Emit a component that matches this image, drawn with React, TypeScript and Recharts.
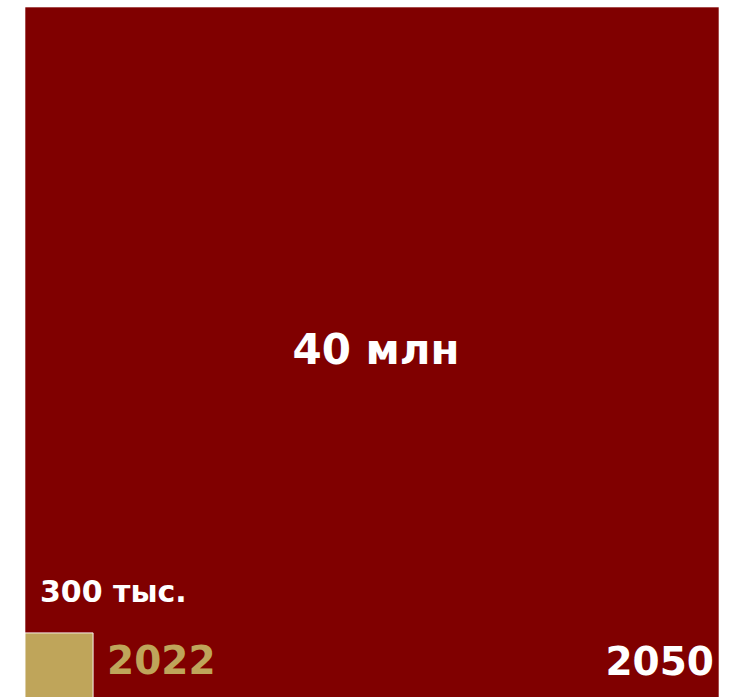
import React from 'react';
import { ComposedChart, XAxis, YAxis, ReferenceArea, Label } from 'recharts';

// Values (millions of people) as drawn: area of each square
const years: string[] = ['2022', '2050'];
const valueLabels: string[] = ['300 тыс.', '40 млн'];
const areas: number[] = [0.385, 40];

const GOLD = '#BFA55A';
const RED = '#800000';
const FONT = '"DejaVu Sans", Verdana, sans-serif';

const sides = areas.map((a) => Math.sqrt(a));
const maxSide = Math.max(...sides);
const chartData = [{ x: 0, y: 0 }, { x: maxSide, y: maxSide }];

const renderBig = (props: any) => {
  const vb = props.viewBox || {};
  const { x = 0, y = 0, width = 0, height = 0 } = vb;
  return (
    <g>
      <text
        x={x + width / 2 + 4}
        y={y + height / 2 + 10}
        textAnchor="middle"
        fill="#ffffff"
        fontFamily={FONT}
        fontWeight="bold"
        fontSize={42}
      >
        {valueLabels[1]}
      </text>
      <text
        x={x + width - 5}
        y={y + height - 26}
        textAnchor="end"
        fill="#ffffff"
        fontFamily={FONT}
        fontWeight="bold"
        fontSize={39}
      >
        {years[1]}
      </text>
    </g>
  );
};

const renderSmall = (props: any) => {
  const vb = props.viewBox || {};
  const { x = 0, y = 0, width = 0 } = vb;
  return (
    <g>
      <text
        x={x + 15}
        y={y - 31}
        textAnchor="start"
        fill="#ffffff"
        fontFamily={FONT}
        fontWeight="bold"
        fontSize={30}
      >
        {valueLabels[0]}
      </text>
      <text
        x={x + width + 14}
        y={y + 41}
        textAnchor="start"
        fill={GOLD}
        fontFamily={FONT}
        fontWeight="bold"
        fontSize={39}
      >
        {years[0]}
      </text>
    </g>
  );
};

export default function App() {
  return (
    <div
      style={{
        position: 'fixed',
        left: 0,
        top: 0,
        width: 729,
        height: 697,
        overflow: 'hidden',
        background: '#ffffff',
      }}
    >
      <ComposedChart
        width={729}
        height={705}
        data={chartData}
        margin={{ top: 7, right: 10, bottom: 4, left: 25 }}
      >
        <XAxis type="number" dataKey="x" domain={[0, maxSide]} allowDataOverflow hide />
        <YAxis type="number" dataKey="y" domain={[0, maxSide]} allowDataOverflow hide />
        <ReferenceArea
          x1={0}
          x2={sides[1]}
          y1={0}
          y2={sides[1]}
          fill={RED}
          fillOpacity={1}
          stroke="#ffffff"
          strokeOpacity={0.6}
          strokeWidth={1}
          ifOverflow="visible"
        >
          <Label content={renderBig} />
        </ReferenceArea>
        <ReferenceArea
          x1={0}
          x2={sides[0]}
          y1={0}
          y2={sides[0]}
          fill={GOLD}
          fillOpacity={1}
          stroke="#ffffff"
          strokeOpacity={0.9}
          strokeWidth={1}
          ifOverflow="visible"
        >
          <Label content={renderSmall} />
        </ReferenceArea>
      </ComposedChart>
    </div>
  );
}
